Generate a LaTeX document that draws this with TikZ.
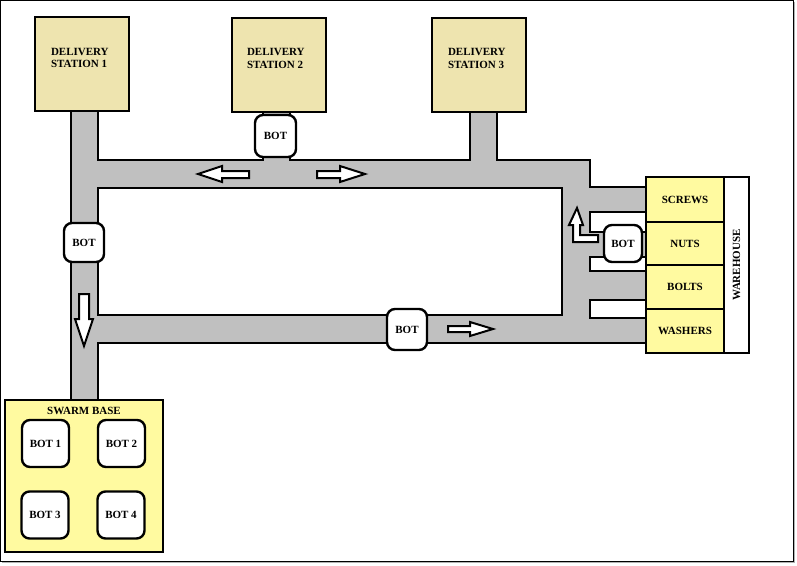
\documentclass[tikz,border=0pt]{standalone}
\usepackage{fontspec}
\setmainfont{Liberation Serif}

\definecolor{stationfill}{RGB}{238,228,175}
\definecolor{basefill}{RGB}{255,250,160}
\definecolor{roadgray}{RGB}{192,192,192}

\begin{document}
\begin{tikzpicture}[x=1pt,y=-1pt,line width=2pt,line join=miter,
    font=\fontsize{11}{12.7}\selectfont\bfseries,
    station/.style={draw,fill=stationfill,minimum width=94pt,minimum height=94pt,inner sep=0pt},
    bot/.style={draw,fill=white,rounded corners=8pt,line width=2.4pt,inner sep=0pt},
    shelf/.style={draw,fill=basefill,minimum width=78pt,inner sep=0pt},
    blockarrow/.style={draw,fill=white,line width=2pt}]
    \useasboundingbox (0,0) rectangle (797,565);
    \draw[line width=1pt] (0.5,0.5) rectangle (793,561);
    \draw[line width=1pt,gray!60] (794.5,2) -- (794.5,562.5) -- (2,562.5);

    % roads
    \draw[fill=roadgray] (71,111) -- (98,111) -- (98,160) -- (263,160) -- (263,111)
        -- (290,111) -- (290,160) -- (470,160) -- (470,112) -- (497,112) -- (497,160)
        -- (590,160) -- (590,187) -- (646,187) -- (646,212) -- (590,212) -- (590,232)
        -- (646,232) -- (646,257) -- (590,257) -- (590,271) -- (646,271) -- (646,300)
        -- (590,300) -- (590,318) -- (646,318) -- (646,343) -- (98,343) -- (98,400)
        -- (71,400) -- cycle;
    \draw[fill=white] (98,188) rectangle (562,315);

    % delivery stations
    \node[station] (ds1) at (82,64) {};
    \node[station] (ds2) at (279,64.5) {};
    \node[station] (ds3) at (479,64.5) {};
    \node[anchor=north west,align=left,inner sep=0pt] (ds1text) at ([shift={(16,31)}]ds1.north west) {DELIVERY\\STATION 1};
    \node[anchor=north west,align=left,inner sep=0pt] (ds2text) at ([shift={(15,31)}]ds2.north west) {DELIVERY\\STATION 2};
    \node[anchor=north west,align=left,inner sep=0pt] (ds3text) at ([shift={(16,31)}]ds3.north west) {DELIVERY\\STATION 3};

    % warehouse
    \node[shelf,minimum height=45pt] (screws) at (685,199.5) {SCREWS};
    \node[shelf,minimum height=43pt] (nuts) at (685,243.5) {NUTS};
    \node[shelf,minimum height=44pt] (bolts) at (685,287) {BOLTS};
    \node[shelf,minimum height=44pt] (washers) at (685,331) {WASHERS};
    \node[draw,fill=white,rotate=90,minimum width=176pt,minimum height=25pt,inner sep=0pt] (wh) at (736.5,265) {WAREHOUSE};

    % bots on the roads
    \node[bot,minimum width=41pt,minimum height=42pt] (bottop) at (275.5,136) {BOT};
    \node[bot,minimum width=40pt,minimum height=39pt] (botleft) at (84,242.5) {BOT};
    \node[bot,minimum width=40pt,minimum height=41pt] (botbottom) at (407,329.5) {BOT};
    \node[bot,minimum width=38pt,minimum height=37pt] (botwh) at (623,243.5) {BOT};

    % swarm base
    \node[draw,fill=basefill,minimum width=158pt,minimum height=152pt,inner sep=0pt] (base) at (84,476) {};
    \node[anchor=north,inner sep=0pt] (basetext) at ([yshift=-7pt]base.north) {SWARM BASE};
    \node[bot,minimum size=47pt] (bot1) at (45.5,443.5) {BOT 1};
    \node[bot,minimum size=47pt] (bot2) at (121.5,443.5) {BOT 2};
    \node[bot,minimum size=47pt] (bot3) at (45,515) {BOT 3};
    \node[bot,minimum size=47pt] (bot4) at (121,515) {BOT 4};

    % direction arrows
    \draw[blockarrow] (249,171) -- (222,171) -- (222,166) -- (198,174) -- (222,182) -- (222,178) -- (249,178) -- cycle;
    \draw[blockarrow] (317,171) -- (340,171) -- (340,166) -- (365,174) -- (340,182) -- (340,178) -- (317,178) -- cycle;
    \draw[blockarrow] (79,294) -- (89,294) -- (89,319) -- (93,319) -- (84,346) -- (75,319) -- (79,319) -- cycle;
    \draw[blockarrow] (448,326) -- (470,326) -- (470,322) -- (493,329) -- (470,336) -- (470,332) -- (448,332) -- cycle;
    \draw[blockarrow] (598,235) -- (580,235) -- (580,225) -- (583,225) -- (577,208) -- (569,225) -- (573,225) -- (573,242) -- (598,242) -- cycle;
\end{tikzpicture}
\end{document}
